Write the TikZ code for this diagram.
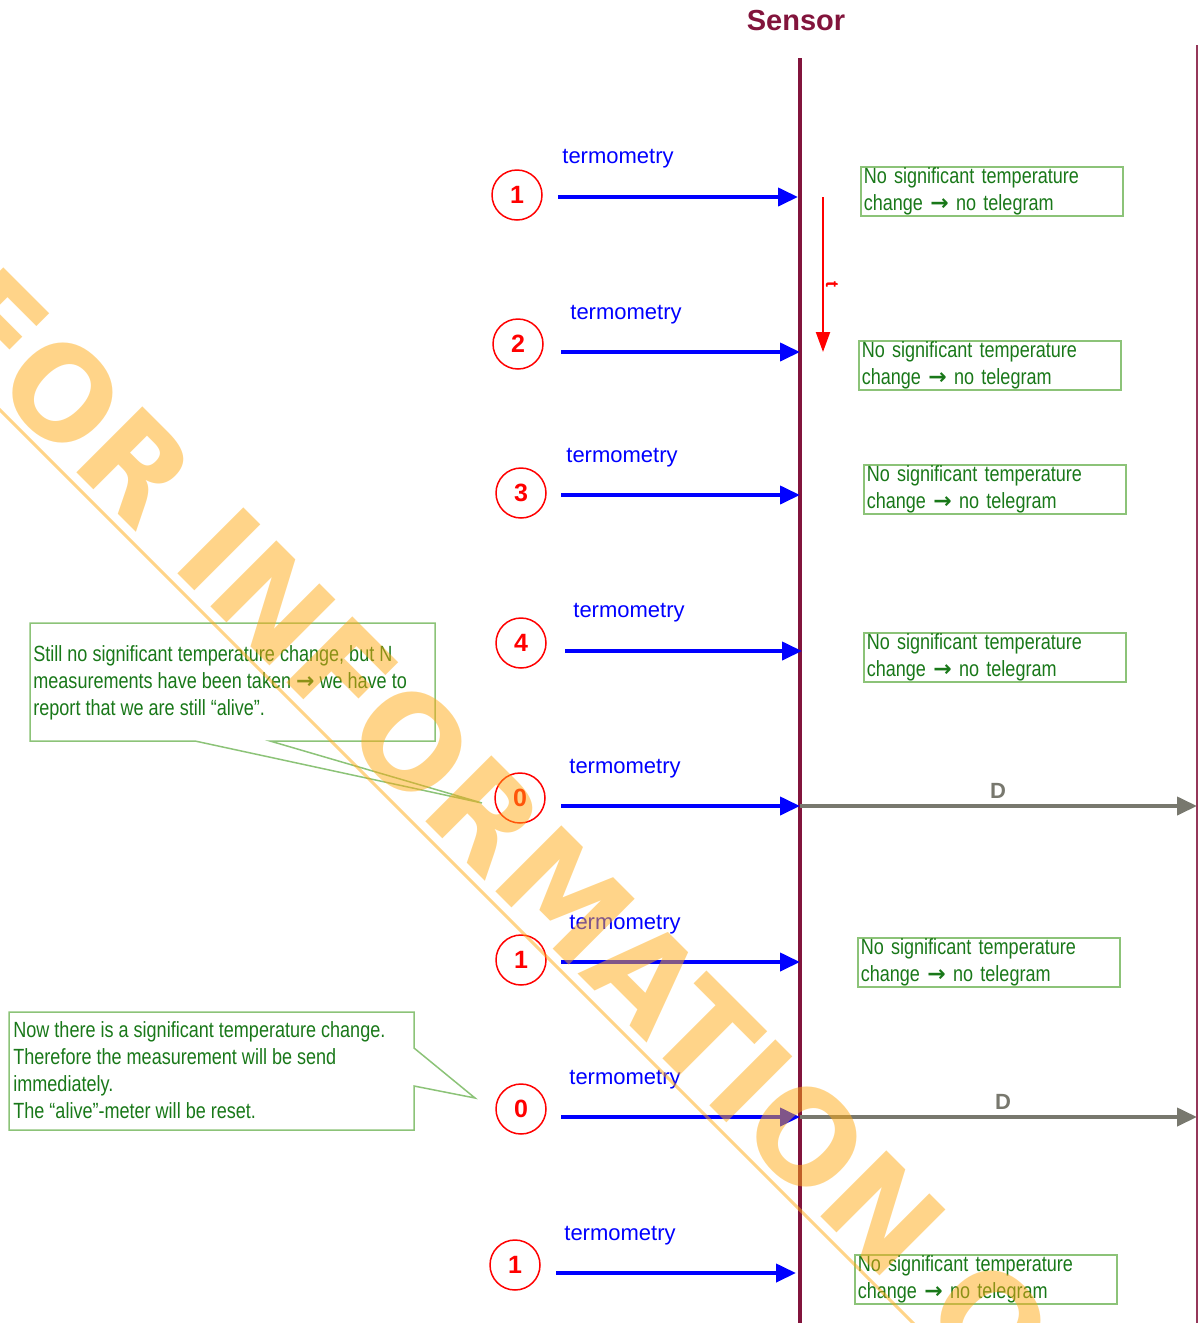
\documentclass[tikz,border=0pt]{standalone}
\usepackage{fontspec}
\setmainfont{Liberation Sans}
\newfontfamily\narrowfont[FakeStretch=0.82]{Liberation Sans}
\newfontfamily\stampfont{DejaVu Sans}
\newfontfamily\arrowfont{DejaVu Sans}
\newcommand{\gotoarr}{{\arrowfont\bfseries →}}
\usetikzlibrary{arrows.meta}

\definecolor{sensorred}{RGB}{130,20,60}
\definecolor{notegreen}{RGB}{25,120,25}
\definecolor{boxgreen}{RGB}{140,195,120}
\definecolor{dgray}{RGB}{120,120,110}
\definecolor{stampcol}{RGB}{255,170,20}

\begin{document}
\begin{tikzpicture}[x=0.5pt, y=-0.5pt,
  meas/.style={circle, draw=red, line width=0.75pt, minimum size=25pt, inner sep=0pt, text=red, font=\bfseries\fontsize{12.5}{14}\selectfont},
  thermo/.style={text=blue, inner sep=0pt, font=\fontsize{11}{13}\selectfont},
  measarrow/.style={draw=blue, line width=2pt, -{Triangle[length=10pt,width=9pt]}},
  sendarrow/.style={draw=dgray, line width=2pt, -{Triangle[length=10pt,width=9pt]}},
  dlabel/.style={text=dgray, inner sep=0pt, font=\bfseries\fontsize{11}{13}\selectfont},
  nobox/.style={draw=boxgreen, line width=0.75pt, text=notegreen, anchor=north west, align=left, text width=128pt, minimum height=24.5pt, inner xsep=1.5pt, inner ysep=0pt, font=\narrowfont\fontsize{11}{13.5}\selectfont},
  note/.style={text=notegreen, anchor=north west, align=left, inner sep=0pt, font=\narrowfont\fontsize{11}{13.5}\selectfont},
  callout/.style={draw=boxgreen, line width=0.75pt},
  stamptext/.style={text=stampcol, opacity=0.5, inner sep=0pt, font=\stampfont\bfseries\fontsize{64}{72}\selectfont},
]

\useasboundingbox (0,0) rectangle (1199,1323);
\clip (0,0) rectangle (1199,1323);

% sensor lifeline
\node[text=sensorred, font=\bfseries\fontsize{14.5}{16}\selectfont] (sensor) at (796,21) {Sensor};
\coordinate (sTop) at (800,58);
\coordinate (sBot) at (800,1323);
\draw[sensorred, line width=2pt] (sTop) -- (sBot);
\coordinate (rTop) at (1197,45);
\coordinate (rBot) at (1197,1323);
\draw[sensorred!85, line width=1pt] (rTop) -- (rBot);

% time
\coordinate (t0) at (823,197);
\coordinate (t1) at (823,352);
\draw[red, line width=1pt, -{Triangle[length=10pt,width=7pt]}] (t0) -- (t1);
\node[text=red, inner sep=0pt, font=\bfseries\fontsize{9}{10}\selectfont, rotate=-90] (tlab) at (832,284) {t};

% measurements
\node[meas] (m1) at (517,195) {1};
\node[thermo] (l1) at (618,159) {termometry};
\coordinate (f1) at (558,197); \coordinate (e1) at (798,197);
\draw[measarrow] (f1) -- (e1);

\node[meas] (m2) at (518,344) {2};
\node[thermo] (l2) at (626,315) {termometry};
\coordinate (f2) at (561,352); \coordinate (e2) at (800,352);
\draw[measarrow] (f2) -- (e2);

\node[meas] (m3) at (521,493) {3};
\node[thermo] (l3) at (622,458) {termometry};
\coordinate (f3) at (561,495); \coordinate (e3) at (800,495);
\draw[measarrow] (f3) -- (e3);

\node[meas] (m4) at (521,643) {4};
\node[thermo] (l4) at (629,613) {termometry};
\coordinate (f4) at (565,651); \coordinate (e4) at (802,651);
\draw[measarrow] (f4) -- (e4);

\node[meas] (m5) at (520,798) {0};
\node[thermo] (l5) at (625,769) {termometry};
\coordinate (f5) at (561,806); \coordinate (e5) at (800,806);
\draw[measarrow] (f5) -- (e5);

\node[meas] (m6) at (521,960) {1};
\node[thermo] (l6) at (625,925) {termometry};
\coordinate (f6) at (561,962); \coordinate (e6) at (800,962);
\draw[measarrow] (f6) -- (e6);

\node[meas] (m7) at (521,1109) {0};
\node[thermo] (l7) at (625,1080) {termometry};
\coordinate (f7) at (561,1117); \coordinate (e7) at (800,1117);
\draw[measarrow] (f7) -- (e7);

\node[meas] (m8) at (515,1265) {1};
\node[thermo] (l8) at (620,1236) {termometry};
\coordinate (f8) at (556,1273); \coordinate (e8) at (796,1273);
\draw[measarrow] (f8) -- (e8);

% telegrams
\coordinate (g5) at (1197,806);
\draw[sendarrow] (e5) -- (g5);
\node[dlabel] (d5) at (998,791) {D};
\coordinate (g7) at (1197,1117);
\draw[sendarrow] (e7) -- (g7);
\node[dlabel] (d7) at (1003,1102) {D};

% no telegram boxes
\node[nobox] (n1) at (860,166) {No significant temperature\\change \gotoarr{} no telegram};
\node[nobox] (n2) at (858,340) {No significant temperature\\change \gotoarr{} no telegram};
\node[nobox] (n3) at (863,464) {No significant temperature\\change \gotoarr{} no telegram};
\node[nobox] (n4) at (863,632) {No significant temperature\\change \gotoarr{} no telegram};
\node[nobox] (n6) at (857,937) {No significant temperature\\change \gotoarr{} no telegram};
\node[nobox] (n8) at (854,1254) {No significant temperature\\change \gotoarr{} no telegram};

% callouts
\draw[callout] (30,623) -- (435,623) -- (435,741) -- (270,741) -- (482,803) -- (195,741) -- (30,741) -- cycle;
\node[note] (c1) at (33,645) {Still no significant temperature change, but N\\measurements have been taken \gotoarr{} we have to\\report that we are still “alive”.};

\draw[callout] (9,1012) -- (414,1012) -- (414,1048) -- (475,1098) -- (414,1086) -- (414,1130) -- (9,1130) -- cycle;
\node[note] (c2) at (13,1021) {Now there is a significant temperature change.\\Therefore the measurement will be send\\immediately.\\The “alive”-meter will be reset.};

% watermark
\node[stamptext, anchor=base west, rotate=-45] (stamp) at (-71,325) {FOR INFORMATION ONLY};
\coordinate (u0) at (-10,400);
\coordinate (u1) at (930,1340);
\draw[stampcol, opacity=0.5, line width=1.5pt] (u0) -- (u1);

\end{tikzpicture}
\end{document}
